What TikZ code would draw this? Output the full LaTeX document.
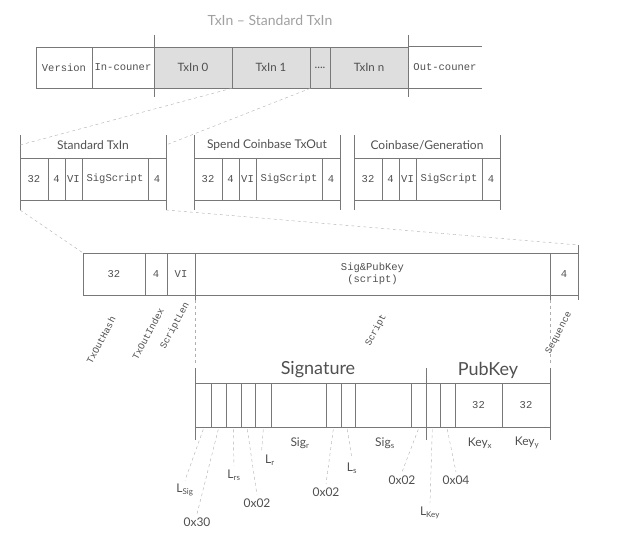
\documentclass[tikz,border=0pt]{standalone}
\usepackage{fontspec}
\setmainfont{Lato}
\newfontfamily\monof{Liberation Mono}
\usetikzlibrary{positioning}
\definecolor{edge}{RGB}{120, 120, 120}
\definecolor{ink}{RGB}{80, 80, 80}
\definecolor{shade}{RGB}{222, 222, 222}
\tikzset{
  cell/.style={draw=edge, inner sep=0pt, text=ink, font=\monof\fontsize{10.5}{12}\selectfont, align=center},
  txcell/.style={cell, fill=shade, font=\fontsize{11.5}{13}\selectfont},
  lbl/.style={text=ink, font=\fontsize{12}{14}\selectfont},
  big/.style={text=ink, font=\fontsize{18}{21}\selectfont},
  vert/.style={text=ink, font=\monof\fontsize{9.5}{10}\selectfont, rotate=62},
  lead/.style={draw=edge!60, dashed, thin},
  tick/.style={draw=edge}
}
% cell{name}{x1}{x2}{y1}{y2}{style}{text}
\newcommand\cell[7]{\node[#6, minimum width={((#3)-(#2))*1pt}, minimum height={((#5)-(#4))*1pt}]
  (#1) at ({((#2)+(#3))/2},{((#4)+(#5))/2}) {#7};}
\begin{document}
\begin{tikzpicture}[x=1pt, y=-1pt, semithick]
  \useasboundingbox (0,0) rectangle (638,537);
  % Top row
  \node[lbl, text=edge!70, font=\fontsize{14}{16}\selectfont] (title) at (270,20) {TxIn -- Standard TxIn};
  \cell{ver}{36}{92}{47}{88}{cell}{Version}
  \cell{inc}{92}{154}{47}{88}{cell}{In-couner}
  \cell{t0}{154}{232}{47}{88}{txcell}{TxIn 0}
  \cell{t1}{232}{310}{47}{88}{txcell}{TxIn 1}
  \cell{td}{310}{330}{47}{88}{txcell}{....}
  \cell{tn}{330}{408}{47}{88}{txcell}{TxIn n}
  \cell{outc}{408}{482}{47}{88}{cell, draw=none}{Out-couner}
  \draw[tick] (outc.north west) -- (outc.north east) (outc.south west) -- (outc.south east);
  \draw[tick] (154,35) -- (154,97) (408,35) -- (408,97);

  % Middle row: three kinds of TxIn
  \foreach \nm/\dx/\ttl in {std/0/{Standard TxIn}, spend/174/{Spend Coinbase TxOut}, gen/334/{Coinbase/Generation}} {
    \cell{\nm a}{20+\dx}{48+\dx}{158}{200}{cell}{32}
    \cell{\nm b}{48+\dx}{65+\dx}{158}{200}{cell}{4}
    \cell{\nm c}{65+\dx}{82+\dx}{158}{200}{cell}{VI}
    \cell{\nm d}{82+\dx}{148+\dx}{158}{200}{cell}{SigScript}
    \cell{\nm e}{148+\dx}{166+\dx}{158}{200}{cell}{4}
    \node[lbl] (\nm) at (93+\dx,145) {\ttl};
    \draw[tick] (20+\dx,135) -- (20+\dx,210) (166+\dx,135) -- (166+\dx,210);
  }
  \coordinate (stdtl) at (20,145);
  \coordinate (stdtr) at (166,145);
  \draw[lead] (t1.south west) -- (stdtl);
  \draw[lead] (t1.south east) -- (stdtr);

  % Lower row: standard TxIn fields
  \cell{hash}{83}{145}{253}{295}{cell}{32}
  \cell{idx}{145}{167}{253}{295}{cell}{4}
  \cell{slen}{167}{195}{253}{295}{cell}{VI}
  \cell{scr}{195}{550}{253}{295}{cell}{Sig\&PubKey\\(script)}
  \cell{seq}{550}{578}{253}{295}{cell}{4}
  \draw[tick] (578,245) -- (578,300) (195,295) -- (195,300) (550,295) -- (550,300);
  \coordinate (stdbl) at (20,210);
  \coordinate (stdbr) at (166,210);
  \draw[lead] (stdbl) -- (hash.north west);
  \draw[lead] (stdbr) -- (578,245);
  \node[vert] (lhash) at (101,340) {TxOutHash};
  \node[vert] (lidx) at (148,334) {TxOutIndex};
  \node[vert] (llen) at (175,326) {ScriptLen};
  \node[vert] (lscr) at (376,330) {Script};
  \node[vert] (lseq) at (559,333) {Sequence};
  \draw[lead] (195,300) -- (195,365) (550,300) -- (550,365);

  % Script: signature and public key
  \foreach \nm/\xa/\xb in {s1/195/211, s2/211/226, s3/226/241, s4/241/255, s5/255/271, s6/271/326,
    s7/326/341, s8/341/355, s9/355/411, s10/411/426, s11/426/440, s12/440/455} {
    \cell{\nm}{\xa}{\xb}{383}{427}{cell}{}
  }
  \cell{kx}{455}{502}{383}{427}{cell}{32}
  \cell{ky}{502}{550}{383}{427}{cell}{32}
  \draw[tick] (195,368) -- (195,440) (550,368) -- (550,440) (426,368) -- (426,440);
  \node[big] (sig) at (318,370) {Signature};
  \node[big] (pub) at (488,370) {PubKey};
  \node[lbl] (lsigr) at (300,443) {Sig\textsubscript{r}};
  \node[lbl] (lsigs) at (385,443) {Sig\textsubscript{s}};
  \node[lbl] (lkx) at (480,443) {Key\textsubscript{x}};
  \node[lbl] (lky) at (527,443) {Key\textsubscript{y}};

  % leaders under the signature bytes
  \node[lbl] (llsig) at (185,490) {L\textsubscript{Sig}};
  \node[lbl] (l30) at (197,522) {0x30};
  \node[lbl] (llrs) at (234,475) {L\textsubscript{rs}};
  \node[lbl] (l02a) at (257,503) {0x02};
  \node[lbl] (llr) at (270,460) {L\textsubscript{r}};
  \node[lbl] (l02b) at (326,492) {0x02};
  \node[lbl] (lls) at (352,468) {L\textsubscript{s}};
  \node[lbl] (l02c) at (402,480) {0x02};
  \node[lbl] (llkey) at (430,513) {L\textsubscript{Key}};
  \node[lbl] (l04) at (456,480) {0x04};
  \draw[lead] (s1.south east) ++(-8,2) -- (llsig.north);
  \draw[lead] (s2.south east) ++(-8,2) -- (l30.north);
  \draw[lead] (s3.south east) ++(-8,2) -- (llrs.north);
  \draw[lead] (s4.south east) ++(-8,2) -- (l02a.north);
  \draw[lead] (s5.south east) ++(-8,2) -- (llr.north west);
  \draw[lead] (s7.south east) ++(-8,2) -- (l02b.north);
  \draw[lead] (s8.south east) ++(-8,2) -- (lls.north);
  \draw[lead] (s10.south east) ++(-8,2) -- (l02c.north);
  \draw[lead] (s11.south east) ++(-8,2) -- (llkey.north);
  \draw[lead] (s12.south east) ++(-8,2) -- (l04.north);
\end{tikzpicture}
\end{document}
